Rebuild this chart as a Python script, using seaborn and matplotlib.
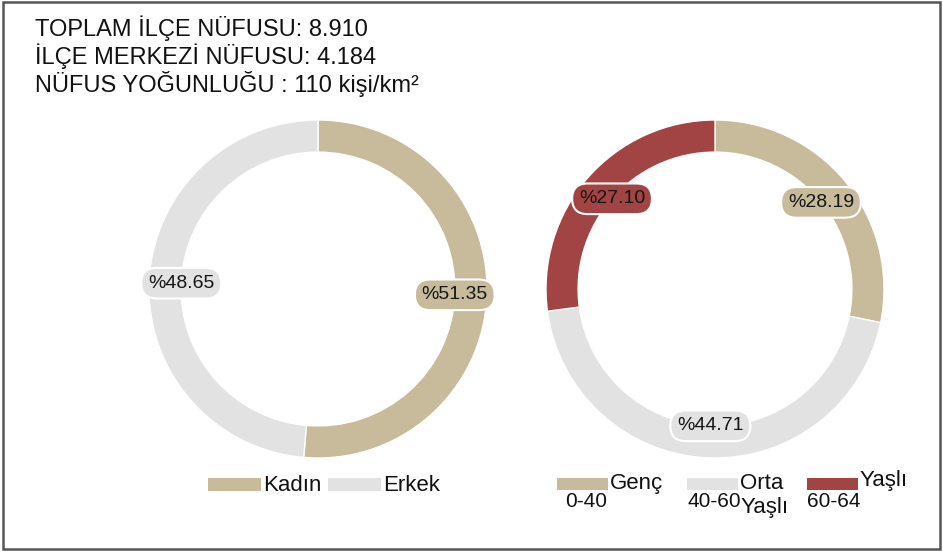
import matplotlib
matplotlib.use("Agg")
import matplotlib.pyplot as plt
from matplotlib.patches import Rectangle
import seaborn as sns

# --- data ---
title_lines = ["TOPLAM İLÇE NÜFUSU: 8.910",
               "İLÇE MERKEZİ NÜFUSU: 4.184",
               "NÜFUS YOĞUNLUĞU : 110 kişi/km²"]

gender_labels = ["Kadın", "Erkek"]
gender_values = [51.35, 48.65]
gender_colors = ["#c8bb9b", "#e2e2e2"]

age_labels = ["Genç", "Orta", "Yaşlı"]
age_sublabels = ["0-40", "40-60", "60-64"]
age_values = [28.19, 44.71, 27.10]
age_colors = ["#c8bb9b", "#e2e2e2", "#a34444"]

sns.set_theme(style="white")
plt.rcParams['font.family'] = ['Liberation Sans', 'DejaVu Sans']

W, H = 943, 552
fig = plt.figure(figsize=(W / 100, H / 100), dpi=100)

# background axes in pixel coords for frame, title and legends
bg = fig.add_axes([0, 0, 1, 1], zorder=0)
bg.set_xlim(0, W)
bg.set_ylim(H, 0)
bg.axis('off')
bg.add_patch(Rectangle((3, 2), 937, 547, fill=False, edgecolor='#555555', lw=1.8))

for i, line in enumerate(title_lines):
    bg.text(35, 36 + 28 * i, line, fontsize=17, color='#111111', va='baseline', ha='left')


def donut(cx, cy, r, values, colors):
    ax = fig.add_axes([(cx - r) / W, (H - cy - r) / H, 2 * r / W, 2 * r / H], zorder=1)
    wedges, _, autotexts = ax.pie(
        values, colors=colors, startangle=90, counterclock=False,
        wedgeprops=dict(width=0.19, edgecolor='white', linewidth=1),
        autopct=lambda p: f'%{p:.2f}', pctdistance=0.81,
        textprops=dict(fontsize=14, color='#151515'))
    for w, t in zip(wedges, autotexts):
        t.set_bbox(dict(boxstyle='round,pad=0.35,rounding_size=0.8',
                        facecolor=w.get_facecolor(), edgecolor='white', lw=1.5))
    ax.set_xlim(-1, 1)
    ax.set_ylim(-1, 1)
    ax.set_aspect('equal')
    return ax


donut(318, 289, 169, gender_values, gender_colors)
donut(715, 289, 169, age_values, age_colors)

# left legend
for x, lab, col in zip([208, 328], gender_labels, gender_colors):
    bg.add_patch(Rectangle((x, 478), 53, 13, color=col, lw=0))
    bg.text(x + 55, 491, lab, fontsize=16, color='#111111', va='baseline')

# right legend
for x, lab, sub, col in zip([557, 687, 807], age_labels, age_sublabels, age_colors):
    bg.add_patch(Rectangle((x, 478), 51, 12, color=col, lw=0))
    bg.text(x + 53, 489 if lab != "Yaşlı" else 486, lab, fontsize=16, color='#111111', va='baseline')
    bg.text(x + (8 if sub == "0-40" else 0), 507, sub, fontsize=15, color='#111111', va='baseline')
bg.text(741, 513, "Yaşlı", fontsize=16, color='#111111', va='baseline')

fig.savefig('out.png', dpi=100)
